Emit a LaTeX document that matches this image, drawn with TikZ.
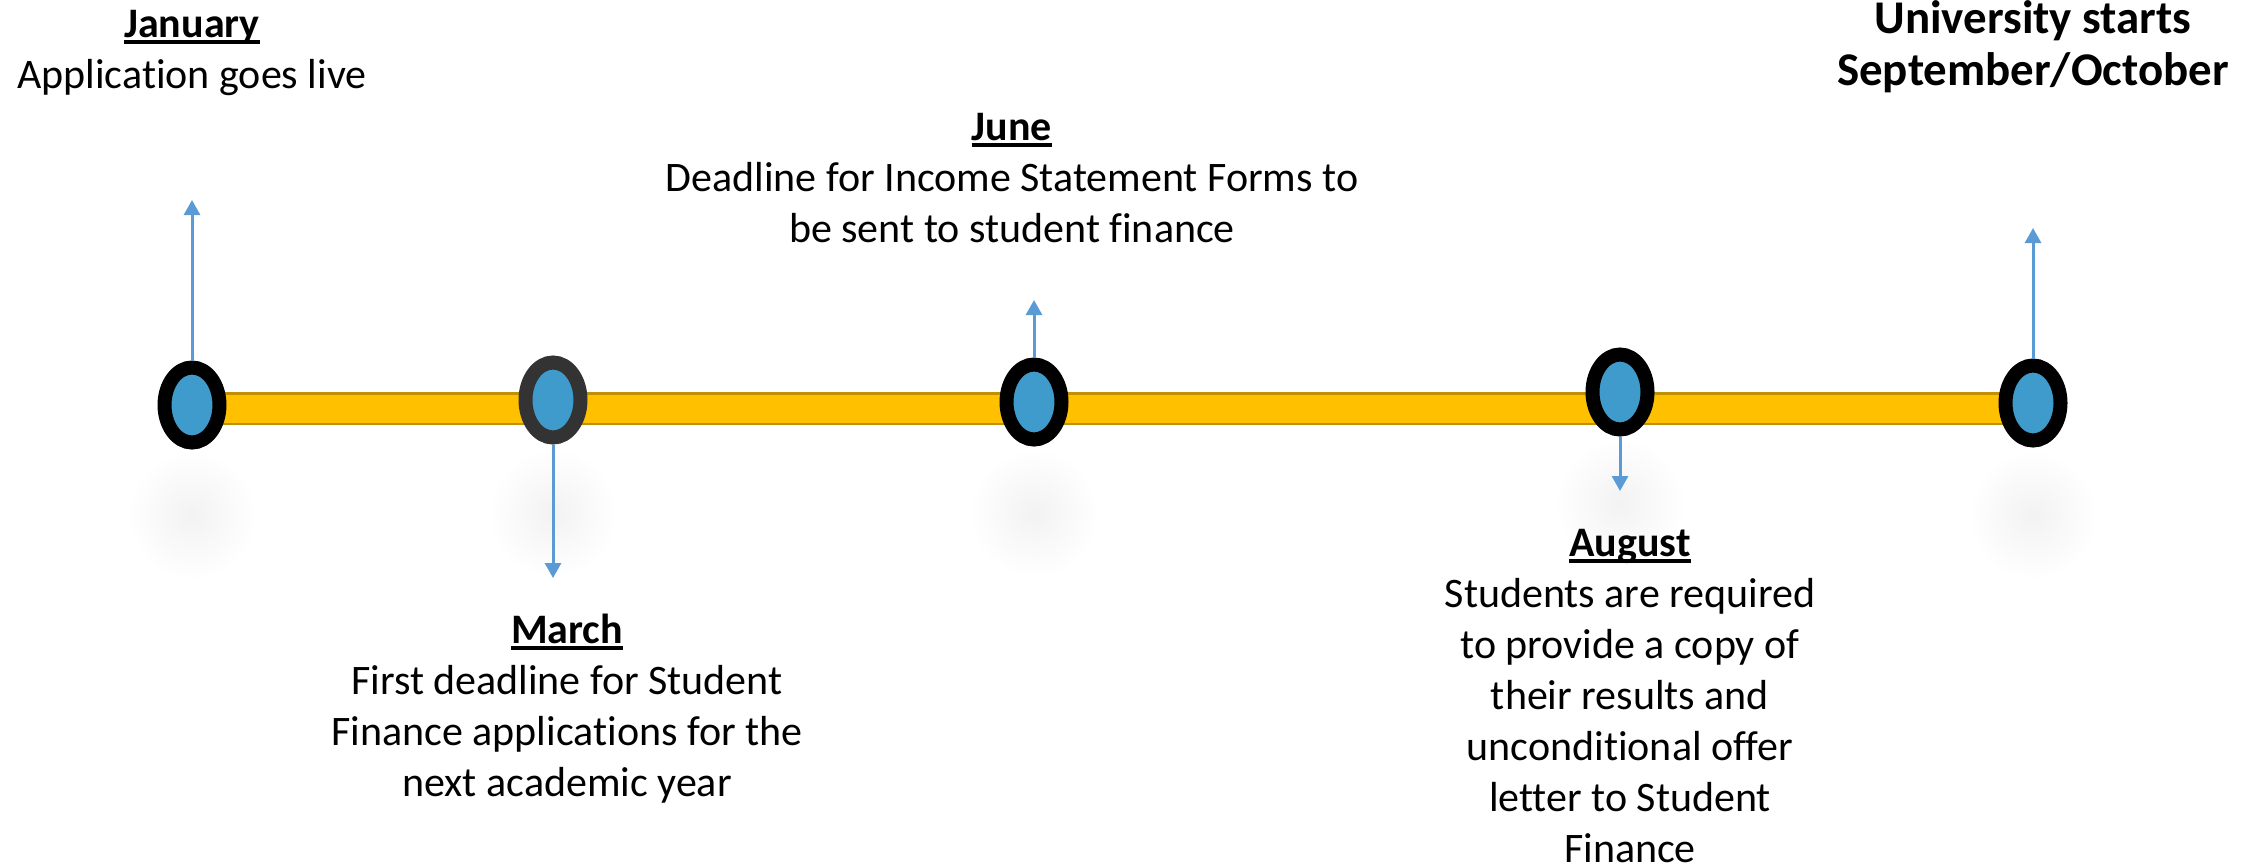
\documentclass[tikz,border=0pt]{standalone}
\usepackage{fontspec}
\setmainfont{Carlito}[Ligatures=NoCommon]
\usepackage{xcolor}
\usetikzlibrary{shapes.geometric}
\usetikzlibrary{arrows.meta,backgrounds}

\definecolor{bargold}{HTML}{FFC000}
\definecolor{baredge}{HTML}{BF9000}
\definecolor{dotblue}{HTML}{3E9BCB}
\definecolor{arrowblue}{HTML}{5B9BD5}
\definecolor{ringgrey}{HTML}{333333}

\tikzstyle{dot} = [ellipse, draw=black, fill=dotblue, line width=0.28cm, minimum width=1.1cm,
minimum height=1.5cm, inner sep=0pt]
\tikzstyle{pointer} = [draw=arrowblue, line width=0.06cm, -{Triangle[width=0.32cm,length=0.3cm]}]
\tikzstyle{eventtext} = [anchor=base, align=center, inner sep=0pt, font=\fontsize{23.9}{29}\selectfont]

\newsavebox{\titlebox}
\newcommand{\monthtitle}[1]{\sbox{\titlebox}{\textbf{#1}}\rlap{\rule[-0.13cm]{\wd\titlebox}{0.08cm}}\usebox{\titlebox}}

\begin{document}
\begin{tikzpicture}[x=0.02cm, y=-0.02cm]
        \useasboundingbox (0,0) rectangle (2267,867);

        % Dots on the time line
        \node[dot] (jan) at (192,405) {};
        \node[dot, draw=ringgrey] (mar) at (553,400) {};
        \node[dot] (jun) at (1034,402) {};
        \node[dot] (aug) at (1620,392) {};
        \node[dot] (oct) at (2033,403) {};

        % Bar and soft shadows go behind the dots
        \begin{pgfonlayer}{background}
            \foreach \d/\s in {jan/515, mar/513, jun/513, aug/503, oct/515}
                \shade[inner color=black!5, outer color=white] (\d |- 0,\s) circle (1.3cm);
            \draw[baredge, line width=0.66cm] (jan |- 0,408.5) -- (oct |- 0,408.5);
            \draw[bargold, line width=0.56cm] (jan |- 0,408.5) -- (oct |- 0,408.5);
        \end{pgfonlayer}

        % Pointers
        \coordinate (jantip) at (jan |- 0,200);
        \coordinate (martip) at (mar |- 0,578);
        \coordinate (juntip) at (jun |- 0,300);
        \coordinate (augtip) at (aug |- 0,491);
        \coordinate (octtip) at (oct |- 0,228);
        \draw[pointer] (jan) -- (jantip);
        \draw[pointer] (mar) -- (martip);
        \draw[pointer] (jun) -- (juntip);
        \draw[pointer] (aug) -- (augtip);
        \draw[pointer] (oct) -- (octtip);

        % Texts (placed by the baseline of their last line)
        \node[eventtext] (jantext) at (192,88) {\monthtitle{January}\\Application goes live};
        \node[eventtext] (juntext) at (1012,242) {\monthtitle{June}\\Deadline for Income Statement Forms to\\be sent to student finance};
        \node[eventtext] (martext) at (567,796) {\monthtitle{March}\\First deadline for Student\\Finance applications for the\\next academic year};
        \node[eventtext] (augtext) at (1630,862) {\monthtitle{August}\\Students are required\\to provide a copy of\\their results and\\unconditional offer\\letter to Student\\Finance};
        \node[eventtext, font=\fontsize{26.7}{29.6}\selectfont\bfseries] (octtext) at (2033,85) {University starts\\September/October};
\end{tikzpicture}
\end{document}
